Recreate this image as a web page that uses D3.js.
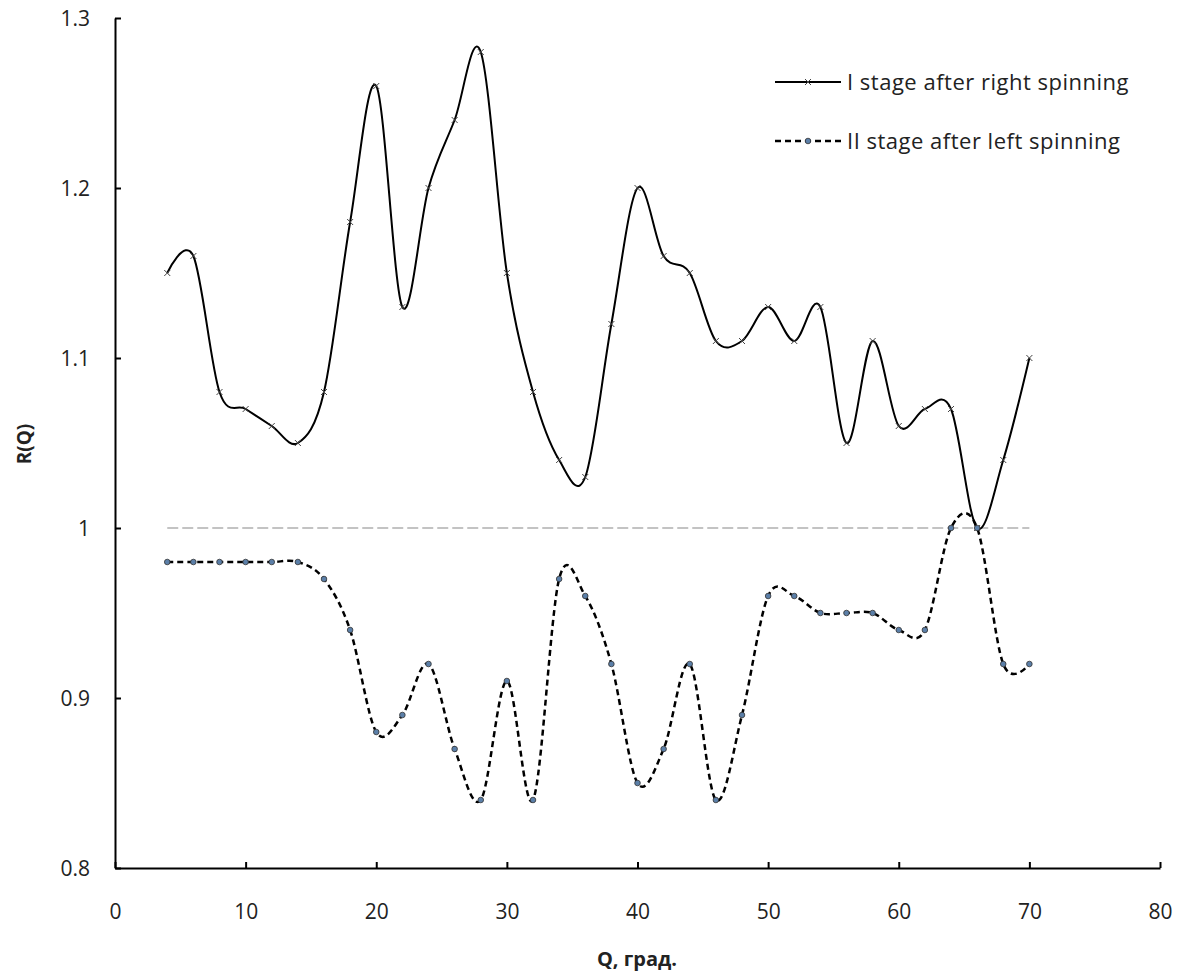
<!DOCTYPE html>
<html>
<head>
<meta charset="utf-8">
<script src="https://cdn.jsdelivr.net/npm/d3@7"></script>
<style>
  body { margin: 0; background: #fff; }
  text { font-family: "Open Sans", "Noto Sans", sans-serif; fill: #222; }
</style>
</head>
<body>
<svg id="chart" width="1182" height="976"></svg>
<script>
// angles (Q, град.)
var angles = [4, 6, 8, 10, 12, 14, 16, 18, 20, 22, 24, 26, 28, 30, 32, 34, 36, 38,
    40, 42, 44, 46, 48, 50, 52, 54, 56, 58, 60, 62, 64, 66, 68, 70];
// I stage after right spinning
var stage1 = [1.15, 1.16, 1.08, 1.07, 1.06, 1.05, 1.08, 1.18, 1.26, 1.13, 1.20, 1.24, 1.28, 1.15,
    1.08, 1.04, 1.03, 1.12, 1.20, 1.16, 1.15, 1.11, 1.11, 1.13, 1.11, 1.13, 1.05, 1.11,
    1.06, 1.07, 1.07, 1.00, 1.04, 1.10];
// II stage after left spinning
var stage2 = [0.98, 0.98, 0.98, 0.98, 0.98, 0.98, 0.97, 0.94, 0.88, 0.89, 0.92, 0.87, 0.84, 0.91,
    0.84, 0.97, 0.96, 0.92, 0.85, 0.87, 0.92, 0.84, 0.89, 0.96, 0.96, 0.95, 0.95, 0.95,
    0.94, 0.94, 1.00, 1.00, 0.92, 0.92];
var xTicks = [0, 10, 20, 30, 40, 50, 60, 70, 80];
var yTicks = [0.8, 0.9, 1.0, 1.1, 1.2, 1.3];
var seriesNames = ["I stage after right spinning", "II stage after left spinning"];

var svg = d3.select("#chart");
var x = d3.scaleLinear().domain([0, 80]).range([115, 1160]);
var y = d3.scaleLinear().domain([0.8, 1.3]).range([868, 18]);

// axes, ticks pointing inward
var xAxis = svg.append("g").attr("transform", "translate(0," + y(0.8) + ")")
    .call(d3.axisBottom(x).tickValues(xTicks).tickSizeInner(-6).tickSizeOuter(0).tickPadding(36)
        .tickFormat(d3.format("d")));
var yAxis = svg.append("g").attr("transform", "translate(" + x(0) + ",0)")
    .call(d3.axisLeft(y).tickValues(yTicks).tickSizeInner(-6).tickSizeOuter(0).tickPadding(25)
        .tickFormat(function (d) { return d === 1 ? "1" : d3.format(".1f")(d); }));
[xAxis, yAxis].forEach(function (g) {
    g.select(".domain").attr("stroke", "#000").attr("stroke-width", 2);
    g.selectAll(".tick line").attr("stroke", "#000").attr("stroke-width", 2);
    g.selectAll(".tick text").attr("font-size", 21).attr("fill", "#333")
        .style("font-family", "\"Open Sans\", sans-serif");
});
yAxis.selectAll(".tick text").attr("dy", "0.35em");
xAxis.selectAll(".tick text").attr("dy", "0.71em");

// axis titles
svg.append("text").attr("x", 637).attr("y", 966).attr("text-anchor", "middle")
    .attr("font-size", 20).attr("font-weight", "bold").text("Q, град.");
svg.append("text").attr("transform", "translate(31," + 444 + ") rotate(-90)")
    .attr("text-anchor", "middle").attr("font-size", 19).attr("font-weight", "bold").text("R(Q)");

// reference line at 1
svg.append("line")
    .attr("x1", x(angles[0])).attr("x2", x(angles[angles.length - 1]))
    .attr("y1", y(1)).attr("y2", y(1))
    .attr("stroke", "#888").attr("stroke-width", 1.2).attr("stroke-dasharray", "11,4");

var line = d3.line().curve(d3.curveCatmullRom.alpha(0))
    .x(function (d) { return x(d[0]); })
    .y(function (d) { return y(d[1]); });

var s1 = angles.map(function (a, i) { return [a, stage1[i]]; });
var s2 = angles.map(function (a, i) { return [a, stage2[i]]; });

svg.append("path").datum(s1).attr("d", line)
    .attr("fill", "none").attr("stroke", "#000").attr("stroke-width", 2);
svg.append("path").datum(s2).attr("d", line)
    .attr("fill", "none").attr("stroke", "#000").attr("stroke-width", 2.5)
    .attr("stroke-dasharray", "6,4");

function cross(g, cx, cy) {
    g.append("path")
        .attr("d", "M" + (cx - 3) + "," + (cy - 3) + "L" + (cx + 3) + "," + (cy + 3) +
            "M" + (cx - 3) + "," + (cy + 3) + "L" + (cx + 3) + "," + (cy - 3))
        .attr("stroke", "#444").attr("stroke-width", 1);
}
var m1 = svg.append("g");
s1.forEach(function (d) { cross(m1, x(d[0]), y(d[1])); });
svg.append("g").selectAll("circle").data(s2).join("circle")
    .attr("cx", function (d) { return x(d[0]); })
    .attr("cy", function (d) { return y(d[1]); })
    .attr("r", 2.8).attr("fill", "#5b7fa8").attr("stroke", "#333").attr("stroke-width", 0.8);

// legend
var leg = svg.append("g");
leg.append("line").attr("x1", 775).attr("x2", 841).attr("y1", 82).attr("y2", 82)
    .attr("stroke", "#000").attr("stroke-width", 2);
cross(leg, 808, 82);
leg.append("text").attr("x", 847).attr("y", 82).attr("dy", "0.35em").attr("font-size", 22)
    .attr("letter-spacing", 0.5).text(seriesNames[0]);
leg.append("line").attr("x1", 775).attr("x2", 841).attr("y1", 141).attr("y2", 141)
    .attr("stroke", "#000").attr("stroke-width", 2.5).attr("stroke-dasharray", "6,4");
leg.append("circle").attr("cx", 808).attr("cy", 141).attr("r", 2.8)
    .attr("fill", "#5b7fa8").attr("stroke", "#333").attr("stroke-width", 0.8);
leg.append("text").attr("x", 847).attr("y", 141).attr("dy", "0.35em").attr("font-size", 22)
    .attr("letter-spacing", 0.5).text(seriesNames[1]);
</script>
</body>
</html>
